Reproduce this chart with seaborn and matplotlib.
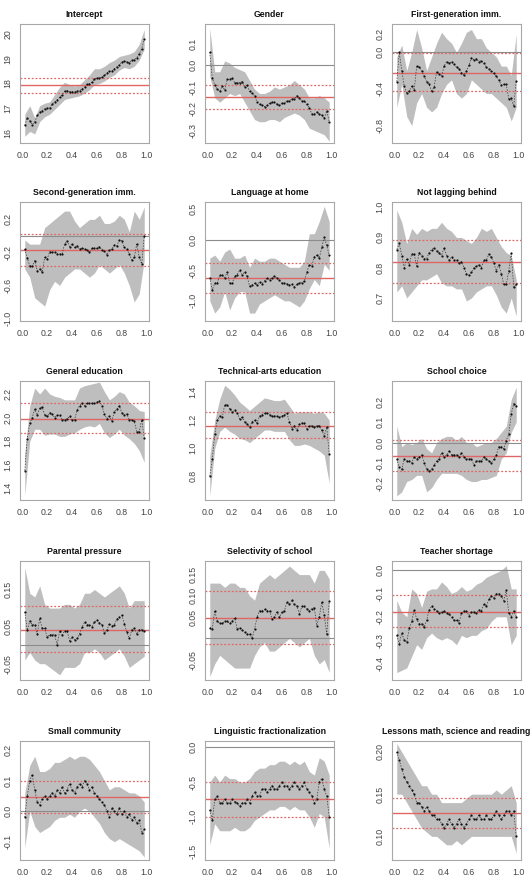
# Quantile regression coefficient plots, 5 x 3 grid

import numpy as np
import pandas as pd
import matplotlib
matplotlib.use('Agg')
import matplotlib.pyplot as plt
import seaborn as sns

# quantile levels of the coefficient points and of the band knots
taus = [0.02, 0.04, 0.06, 0.08, 0.10, 0.12, 0.14, 0.16, 0.18, 0.20,
        0.22, 0.24, 0.26, 0.28, 0.30, 0.32, 0.34, 0.36, 0.38, 0.40,
        0.42, 0.44, 0.46, 0.48, 0.50, 0.52, 0.54, 0.56, 0.58, 0.60,
        0.62, 0.64, 0.66, 0.68, 0.70, 0.72, 0.74, 0.76, 0.78, 0.80,
        0.82, 0.84, 0.86, 0.88, 0.90, 0.92, 0.94, 0.96, 0.98]
band_taus = [0.02, 0.06, 0.10, 0.14, 0.18, 0.22, 0.26, 0.30, 0.34, 0.38,
             0.42, 0.46, 0.50, 0.54, 0.58, 0.62, 0.66, 0.70, 0.74, 0.78,
             0.82, 0.86, 0.90, 0.94, 0.98]

titles = ['Intercept', 'Gender', 'First-generation imm.',
          'Second-generation imm.', 'Language at home', 'Not lagging behind',
          'General education', 'Technical-arts education', 'School choice',
          'Parental pressure', 'Selectivity of school', 'Teacher shortage',
          'Small community', 'Linguistic fractionalization',
          'Lessons math, science and reading']

# Intercept
intercept_coef = [16.3, 16.6, 16.47, 16.33, 16.43, 16.7, 16.83,
                  16.9, 16.97, 17.0, 17.0, 17.17, 17.24, 17.33,
                  17.44, 17.54, 17.69, 17.71, 17.67, 17.67, 17.65,
                  17.69, 17.71, 17.78, 17.85, 17.96, 17.99, 18.05,
                  18.19, 18.22, 18.23, 18.26, 18.33, 18.42, 18.49,
                  18.5, 18.6, 18.67, 18.76, 18.87, 18.9, 18.87,
                  18.84, 18.94, 18.97, 19.05, 19.21, 19.42, 19.8]
intercept_lo = [15.85, 16.05, 15.95, 16.45, 16.65, 16.75, 16.95, 17.15, 17.35, 17.4,
                17.45, 17.5, 17.6, 17.75, 17.95, 18.0, 18.1, 18.25, 18.35, 18.55,
                18.65, 18.6, 18.7, 18.95, 19.4]
intercept_hi = [16.75, 17.1, 16.6, 17.1, 17.2, 17.25, 17.55, 17.85, 18.05, 17.95,
                17.9, 17.95, 18.15, 18.35, 18.6, 18.6, 18.7, 18.85, 18.95, 19.1,
                19.15, 19.2, 19.3, 19.6, 20.2]
intercept_ols = [17.92, 17.62, 18.23]

# Gender
gender_coef = [0.06, -0.06, -0.09, -0.11, -0.12, -0.095, -0.115,
               -0.065, -0.065, -0.06, -0.08, -0.08, -0.08, -0.075,
               -0.1, -0.09, -0.12, -0.13, -0.14, -0.17, -0.18,
               -0.185, -0.19, -0.185, -0.175, -0.17, -0.17, -0.18,
               -0.185, -0.175, -0.175, -0.165, -0.165, -0.155, -0.155,
               -0.14, -0.15, -0.165, -0.165, -0.18, -0.195, -0.225,
               -0.225, -0.215, -0.225, -0.23, -0.245, -0.21, -0.26]
gender_lo = [-0.05, -0.15, -0.17, -0.15, -0.13, -0.14, -0.13, -0.17, -0.21, -0.25,
             -0.26, -0.26, -0.25, -0.25, -0.26, -0.24, -0.23, -0.22, -0.23, -0.25,
             -0.29, -0.3, -0.31, -0.32, -0.35]
gender_hi = [0.17, -0.03, -0.03, 0.02, 0.01, -0.01, -0.02, -0.03, -0.07, -0.11,
             -0.13, -0.13, -0.12, -0.1, -0.11, -0.1, -0.09, -0.07, -0.09, -0.11,
             -0.15, -0.15, -0.14, -0.15, -0.17]
gender_ols = [-0.145, -0.2, -0.089]

# First-generation immigrant
firstgen_coef = [-0.32, 0.0, -0.2, -0.37, -0.44, -0.42, -0.37,
                 -0.41, -0.15, -0.16, -0.2, -0.26, -0.32, -0.35,
                 -0.42, -0.38, -0.21, -0.24, -0.26, -0.15, -0.1,
                 -0.12, -0.1, -0.13, -0.16, -0.18, -0.22, -0.25,
                 -0.2, -0.14, -0.06, -0.08, -0.07, -0.1, -0.09,
                 -0.12, -0.16, -0.18, -0.2, -0.23, -0.26, -0.3,
                 -0.36, -0.35, -0.35, -0.51, -0.5, -0.59, -0.31]
firstgen_lo = [-0.6, -0.35, -0.7, -0.8, -0.55, -0.45, -0.6, -0.65, -0.6, -0.45,
               -0.35, -0.3, -0.45, -0.5, -0.45, -0.3, -0.35, -0.4, -0.45, -0.45,
               -0.5, -0.55, -0.6, -0.75, -0.6]
firstgen_hi = [-0.05, 0.08, -0.2, 0.0, 0.25, 0.05, -0.2, -0.05, 0.1, 0.22,
               0.15, 0.1, 0.0, 0.1, 0.22, 0.25, 0.15, 0.15, 0.05, 0.0,
               -0.05, -0.15, -0.15, -0.25, 0.2]
firstgen_ols = [-0.22, -0.42, -0.007]

# Second-generation immigrant
secondgen_coef = [-0.16, -0.27, -0.36, -0.37, -0.3, -0.42, -0.4,
                  -0.44, -0.26, -0.28, -0.19, -0.2, -0.19, -0.22,
                  -0.22, -0.22, -0.1, -0.06, -0.13, -0.1, -0.14,
                  -0.12, -0.16, -0.15, -0.16, -0.17, -0.2, -0.15,
                  -0.15, -0.15, -0.13, -0.17, -0.18, -0.23, -0.17,
                  -0.16, -0.11, -0.12, -0.05, -0.06, -0.14, -0.16,
                  -0.22, -0.29, -0.26, -0.1, -0.26, -0.34, 0.0]
secondgen_lo = [-0.4, -0.5, -0.75, -0.8, -0.85, -0.65, -0.55, -0.6, -0.5, -0.45,
                -0.4, -0.4, -0.45, -0.5, -0.45, -0.35, -0.4, -0.45, -0.4, -0.35,
                -0.45, -0.6, -0.8, -0.7, -0.3]
secondgen_hi = [-0.05, -0.1, -0.1, -0.1, 0.1, 0.15, 0.2, 0.25, 0.3, 0.3,
                0.18, 0.1, 0.15, 0.2, 0.2, 0.25, 0.15, 0.15, 0.18, 0.25,
                0.2, 0.05, 0.3, 0.2, 0.35]
secondgen_ols = [-0.17, -0.36, 0.02]

# Language at home
language_coef = [-0.62, -0.82, -0.71, -0.71, -0.58, -0.58, -0.62,
                 -0.53, -0.71, -0.71, -0.6, -0.57, -0.5, -0.57,
                 -0.53, -0.6, -0.76, -0.74, -0.71, -0.74, -0.69,
                 -0.72, -0.67, -0.63, -0.65, -0.62, -0.6, -0.62,
                 -0.66, -0.71, -0.71, -0.72, -0.74, -0.73, -0.77,
                 -0.73, -0.7, -0.7, -0.68, -0.53, -0.41, -0.43,
                 -0.28, -0.25, -0.3, -0.12, 0.04, -0.09, -0.25]
language_lo = [-1.0, -1.2, -1.1, -0.85, -1.15, -0.95, -0.85, -0.85, -1.2, -1.2,
               -1.05, -1.0, -0.95, -0.9, -0.95, -1.0, -1.0, -1.05, -1.1, -1.0,
               -0.8, -0.65, -0.75, -0.4, -0.5]
language_hi = [-0.3, -0.25, -0.35, -0.2, -0.15, -0.3, -0.3, -0.25, -0.45, -0.3,
               -0.35, -0.35, -0.3, -0.3, -0.35, -0.4, -0.45, -0.45, -0.45, -0.35,
               0.1, 0.1, 0.3, 0.55, 0.3]
language_ols = [-0.63, -0.87, -0.38]

# Not lagging behind
notlag_coef = [0.86, 0.88, 0.84, 0.8, 0.83, 0.81, 0.845,
               0.845, 0.805, 0.85, 0.84, 0.83, 0.83, 0.85,
               0.86, 0.865, 0.855, 0.85, 0.84, 0.865, 0.84,
               0.825, 0.835, 0.825, 0.825, 0.815, 0.82, 0.8,
               0.78, 0.775, 0.785, 0.8, 0.805, 0.81, 0.8,
               0.825, 0.825, 0.845, 0.835, 0.815, 0.79, 0.81,
               0.78, 0.745, 0.745, 0.79, 0.85, 0.735, 0.745]
notlag_lo = [0.72, 0.74, 0.7, 0.72, 0.74, 0.76, 0.76, 0.77, 0.78, 0.75,
             0.74, 0.74, 0.73, 0.73, 0.69, 0.7, 0.72, 0.73, 0.74, 0.74,
             0.71, 0.67, 0.65, 0.7, 0.64]
notlag_hi = [0.99, 0.95, 0.88, 0.93, 0.91, 0.93, 0.92, 0.93, 0.93, 0.95,
             0.93, 0.92, 0.9, 0.9, 0.89, 0.88, 0.9, 0.93, 0.92, 0.93,
             0.9, 0.87, 0.85, 0.84, 0.76]
notlag_ols = [0.82, 0.749, 0.892]

# General education
geneduc_coef = [1.55, 1.82, 1.95, 2.0, 2.07, 2.02, 2.08,
                2.09, 2.02, 2.01, 2.04, 2.03, 2.0, 2.02,
                2.02, 1.98, 1.98, 1.99, 2.01, 1.98, 1.98,
                2.06, 2.1, 2.12, 2.1, 2.12, 2.12, 2.12,
                2.12, 2.13, 2.14, 2.1, 2.03, 1.99, 2.01,
                1.97, 2.05, 2.07, 2.1, 2.04, 2.02, 2.03,
                1.98, 1.98, 1.97, 1.88, 1.88, 1.98, 1.83]
geneduc_lo = [1.34, 1.8, 1.9, 1.9, 1.85, 1.86, 1.86, 1.84, 1.84, 1.86,
              1.87, 1.9, 1.92, 1.93, 1.92, 1.95, 1.87, 1.83, 1.86, 1.9,
              1.85, 1.82, 1.78, 1.72, 1.62]
geneduc_hi = [1.7, 2.1, 2.25, 2.2, 2.25, 2.2, 2.18, 2.17, 2.15, 2.15,
              2.15, 2.25, 2.27, 2.28, 2.29, 2.3, 2.22, 2.15, 2.18, 2.22,
              2.2, 2.13, 2.1, 2.06, 2.05]
geneduc_ols = [1.99, 1.87, 2.12]

# Technical-arts education
techeduc_coef = [0.8, 0.92, 1.1, 1.2, 1.23, 1.22, 1.31,
                 1.31, 1.28, 1.26, 1.27, 1.25, 1.21, 1.22,
                 1.19, 1.17, 1.15, 1.19, 1.2, 1.18, 1.23,
                 1.24, 1.25, 1.25, 1.24, 1.23, 1.23, 1.23,
                 1.22, 1.23, 1.24, 1.25, 1.19, 1.14, 1.16,
                 1.13, 1.17, 1.18, 1.18, 1.14, 1.16, 1.16,
                 1.15, 1.16, 1.16, 1.13, 1.09, 1.15, 0.96]
techeduc_lo = [0.66, 1.0, 1.12, 1.15, 1.12, 1.1, 1.07, 1.06, 1.04, 1.07,
               1.1, 1.13, 1.13, 1.12, 1.12, 1.12, 1.06, 1.02, 1.02, 1.03,
               1.02, 1.0, 0.98, 0.95, 0.75]
techeduc_hi = [0.94, 1.2, 1.35, 1.45, 1.42, 1.38, 1.33, 1.3, 1.27, 1.3,
               1.33, 1.36, 1.35, 1.34, 1.34, 1.35, 1.3, 1.25, 1.26, 1.26,
               1.26, 1.25, 1.26, 1.25, 1.2]
techeduc_ols = [1.16, 1.07, 1.26]

# School choice
choice_coef = [-0.08, -0.12, -0.13, -0.08, -0.09, -0.09, -0.1,
               -0.07, -0.08, -0.07, -0.06, -0.1, -0.13, -0.14,
               -0.13, -0.11, -0.09, -0.08, -0.05, -0.07, -0.06,
               -0.04, -0.06, -0.06, -0.06, -0.07, -0.05, -0.07,
               -0.08, -0.08, -0.08, -0.11, -0.09, -0.09, -0.09,
               -0.07, -0.08, -0.09, -0.1, -0.08, -0.06, -0.02,
               -0.02, -0.03, 0.01, 0.04, 0.14, 0.19, 0.18]
choice_lo = [-0.26, -0.24, -0.19, -0.18, -0.16, -0.16, -0.24, -0.22, -0.18, -0.15,
             -0.15, -0.15, -0.15, -0.16, -0.18, -0.19, -0.19, -0.18, -0.18, -0.17,
             -0.16, -0.08, -0.05, 0.05, 0.1]
choice_hi = [0.08, -0.02, 0.0, -0.01, 0.0, 0.02, -0.03, -0.05, 0.0, 0.02,
             0.03, 0.03, 0.01, 0.03, 0.0, 0.0, -0.02, -0.01, 0.0, 0.0,
             0.02, 0.05, 0.08, 0.21, 0.27]
choice_ols = [-0.064, -0.14, 0.011]

# Parental pressure
pressure_coef = [0.09, 0.04, 0.065, 0.055, 0.055, 0.03, 0.072,
                 0.045, 0.045, 0.022, 0.028, 0.028, 0.028, 0.0,
                 0.038, 0.028, 0.038, 0.038, 0.012, 0.022, 0.015,
                 0.018, 0.03, 0.048, 0.062, 0.055, 0.055, 0.05,
                 0.062, 0.068, 0.06, 0.055, 0.032, 0.04, 0.058,
                 0.052, 0.055, 0.07, 0.075, 0.08, 0.058, 0.035,
                 0.018, 0.042, 0.045, 0.03, 0.042, 0.042, 0.038]
pressure_lo = [-0.04, -0.02, -0.04, -0.05, -0.05, -0.06, -0.07, -0.08, -0.06, -0.06,
               -0.06, -0.05, -0.02, -0.02, -0.01, -0.02, -0.04, -0.03, -0.02, -0.01,
               -0.03, -0.06, -0.05, -0.04, -0.03]
pressure_hi = [0.21, 0.14, 0.13, 0.16, 0.11, 0.1, 0.1, 0.1, 0.11, 0.11,
               0.1, 0.11, 0.14, 0.14, 0.15, 0.14, 0.13, 0.14, 0.15, 0.16,
               0.14, 0.1, 0.12, 0.12, 0.12]
pressure_ols = [0.041, -0.018, 0.106]

# Selectivity of school
select_coef = [0.025, 0.022, 0.065, 0.04, 0.035, 0.035, 0.04,
               0.04, 0.035, 0.04, 0.048, 0.022, 0.025, 0.02,
               0.015, 0.01, 0.01, 0.0, 0.022, 0.05, 0.065,
               0.065, 0.068, 0.065, 0.065, 0.045, 0.05, 0.062,
               0.05, 0.062, 0.065, 0.085, 0.08, 0.09, 0.08,
               0.075, 0.058, 0.075, 0.075, 0.07, 0.065, 0.07,
               0.072, 0.03, 0.05, 0.085, 0.055, 0.01, 0.088]
select_lo = [-0.09, -0.06, -0.04, -0.05, -0.06, -0.07, -0.07, -0.07, -0.07, -0.04,
             -0.02, -0.01, -0.03, -0.03, -0.02, -0.01, 0.0, -0.01, -0.02, -0.01,
             0.0, -0.04, -0.06, -0.05, -0.08]
select_hi = [0.13, 0.13, 0.13, 0.12, 0.13, 0.13, 0.12, 0.12, 0.1, 0.09,
             0.13, 0.14, 0.15, 0.14, 0.15, 0.16, 0.17, 0.16, 0.15, 0.15,
             0.15, 0.13, 0.16, 0.16, 0.14]
select_ols = [0.048, -0.013, 0.111]

# Teacher shortage
teacher_coef = [-0.28, -0.315, -0.27, -0.3, -0.31, -0.25, -0.22,
                -0.17, -0.21, -0.23, -0.23, -0.245, -0.215, -0.17,
                -0.155, -0.165, -0.175, -0.185, -0.18, -0.175, -0.185,
                -0.19, -0.2, -0.215, -0.215, -0.225, -0.185, -0.175,
                -0.175, -0.195, -0.18, -0.18, -0.185, -0.17, -0.175,
                -0.145, -0.155, -0.125, -0.11, -0.12, -0.1, -0.1,
                -0.11, -0.13, -0.085, -0.185, -0.2, -0.175, -0.2]
teacher_lo = [-0.44, -0.43, -0.42, -0.37, -0.32, -0.34, -0.29, -0.27, -0.29, -0.3,
              -0.29, -0.3, -0.32, -0.28, -0.29, -0.28, -0.28, -0.26, -0.25, -0.22,
              -0.2, -0.2, -0.2, -0.32, -0.28]
teacher_hi = [-0.13, -0.18, -0.2, -0.08, -0.1, -0.16, -0.09, -0.08, -0.08, -0.05,
              -0.07, -0.1, -0.09, -0.07, -0.09, -0.08, -0.06, -0.05, -0.03, -0.02,
              -0.01, 0.0, 0.02, -0.08, -0.08]
teacher_ols = [-0.178, -0.246, -0.106]

# Small community
small_coef = [-0.02, 0.05, 0.1, 0.12, 0.07, 0.03, 0.02,
              0.04, 0.05, 0.04, 0.05, 0.06, 0.05, 0.07,
              0.06, 0.08, 0.06, 0.07, 0.09, 0.07, 0.06,
              0.08, 0.09, 0.08, 0.1, 0.09, 0.07, 0.08,
              0.06, 0.05, 0.04, 0.03, 0.02, 0.0, -0.02,
              0.01, 0.0, -0.01, 0.01, -0.01, 0.0, -0.02,
              -0.01, -0.03, -0.02, -0.04, -0.03, -0.07, -0.06]
small_lo = [-0.12, 0.0, -0.05, -0.07, -0.06, -0.05, -0.03, -0.02, -0.02, -0.01,
            -0.02, 0.0, 0.01, 0.0, -0.02, -0.04, -0.07, -0.09, -0.1, -0.09,
            -0.1, -0.11, -0.12, -0.13, -0.15]
small_hi = [0.06, 0.15, 0.18, 0.13, 0.13, 0.14, 0.16, 0.16, 0.17, 0.18,
            0.17, 0.18, 0.18, 0.17, 0.15, 0.13, 0.1, 0.07, 0.08, 0.08,
            0.07, 0.06, 0.06, 0.05, 0.03]
small_ols = [0.045, -0.005, 0.1]

# Linguistic fractionalization
lingfrac_coef = [-0.9, -1.05, -0.75, -0.7, -0.8, -0.8, -0.75,
                 -0.8, -0.8, -0.75, -0.78, -0.8, -0.85, -0.8,
                 -0.8, -0.75, -0.8, -0.7, -0.65, -0.7, -0.7,
                 -0.6, -0.6, -0.65, -0.6, -0.55, -0.6, -0.6,
                 -0.55, -0.5, -0.55, -0.55, -0.6, -0.55, -0.5,
                 -0.55, -0.6, -0.55, -0.5, -0.6, -0.65, -0.7,
                 -0.8, -0.75, -0.5, -0.45, -0.6, -0.7, -1.0]
lingfrac_lo = [-1.4, -1.1, -1.2, -1.2, -1.2, -1.15, -1.2, -1.2, -1.15, -1.05,
               -1.0, -0.95, -0.9, -0.9, -0.85, -0.85, -0.9, -0.85, -0.9, -0.9,
               -1.0, -1.15, -0.95, -1.0, -1.45]
lingfrac_hi = [-0.5, -0.4, -0.5, -0.4, -0.45, -0.45, -0.5, -0.5, -0.45, -0.35,
               -0.3, -0.3, -0.25, -0.25, -0.2, -0.2, -0.25, -0.2, -0.25, -0.2,
               -0.35, -0.4, -0.15, -0.2, -0.4]
lingfrac_ols = [-0.75, -1.0, -0.5]

# Lessons math, science and reading
lessons_coef = [0.2, 0.19, 0.18, 0.17, 0.165, 0.16, 0.155,
                0.15, 0.14, 0.14, 0.135, 0.13, 0.135, 0.13,
                0.125, 0.125, 0.12, 0.12, 0.115, 0.11, 0.115,
                0.12, 0.115, 0.11, 0.115, 0.12, 0.115, 0.11,
                0.115, 0.12, 0.125, 0.12, 0.12, 0.125, 0.12,
                0.12, 0.125, 0.12, 0.12, 0.125, 0.13, 0.125,
                0.12, 0.125, 0.13, 0.13, 0.125, 0.13, 0.1]
lessons_lo = [0.15, 0.15, 0.14, 0.13, 0.12, 0.11, 0.105, 0.1, 0.1, 0.095,
              0.09, 0.09, 0.095, 0.09, 0.095, 0.1, 0.1, 0.1, 0.1, 0.1,
              0.1, 0.1, 0.1, 0.1, 0.08]
lessons_hi = [0.21, 0.2, 0.19, 0.18, 0.17, 0.16, 0.16, 0.15, 0.15, 0.14,
              0.14, 0.14, 0.14, 0.14, 0.145, 0.15, 0.15, 0.15, 0.15, 0.15,
              0.155, 0.15, 0.155, 0.16, 0.14]
lessons_ols = [0.128, 0.11, 0.145]

# y axis ticks ('' = tick without label) and limits per panel
yticks = [[16, 17, 18, 19, 20],
          [-0.3, -0.2, -0.1, 0.0, 0.1],
          [-0.8, -0.6, -0.4, -0.2, 0.0, 0.2],
          [-1.0, -0.8, -0.6, -0.4, -0.2, 0.0, 0.2],
          [-1.0, -0.5, 0.0, 0.5],
          [0.7, 0.8, 0.9, 1.0],
          [1.4, 1.6, 1.8, 2.0, 2.2],
          [0.8, 1.0, 1.2, 1.4],
          [-0.2, -0.1, 0.0, 0.1, 0.2],
          [-0.05, 0.0, 0.05, 0.10, 0.15],
          [-0.05, 0.0, 0.05, 0.10, 0.15],
          [-0.4, -0.3, -0.2, -0.1, 0.0],
          [-0.1, 0.0, 0.1, 0.2],
          [-1.5, -1.0, -0.5, 0.0],
          [0.10, 0.15, 0.20]]
ylabels = [['16', '17', '18', '19', '20'],
           ['-0.3', '-0.2', '-0.1', '0.0', '0.1'],
           ['-0.8', '', '-0.4', '', '0.0', '0.2'],
           ['-1.0', '', '-0.6', '', '-0.2', '', '0.2'],
           ['-1.0', '-0.5', '0.0', '0.5'],
           ['0.7', '0.8', '0.9', '1.0'],
           ['1.4', '1.6', '1.8', '2.0', '2.2'],
           ['0.8', '1.0', '1.2', '1.4'],
           ['-0.2', '-0.1', '0.0', '0.1', '0.2'],
           ['-0.05', '', '0.05', '', '0.15'],
           ['-0.05', '', '0.05', '0.10', '0.15'],
           ['-0.4', '-0.3', '-0.2', '-0.1', '0.0'],
           ['-0.1', '0.0', '0.1', '0.2'],
           ['-1.5', '-1.0', '-0.5', '0.0'],
           ['0.10', '0.15', '0.20']]
ylims = [(15.58, 20.42), (-0.358, 0.19), (-0.99, 0.31), (-1.03, 0.41),
         (-1.33, 0.62), (0.624, 1.017), (1.30, 2.31), (0.63, 1.48),
         (-0.28, 0.30), (-0.094, 0.227), (-0.098, 0.182), (-0.472, 0.04),
         (-0.16, 0.23), (-1.62, 0.09), (0.072, 0.213)]

coefs = [intercept_coef, gender_coef, firstgen_coef, secondgen_coef, language_coef,
         notlag_coef, geneduc_coef, techeduc_coef, choice_coef, pressure_coef,
         select_coef, teacher_coef, small_coef, lingfrac_coef, lessons_coef]
lows = [intercept_lo, gender_lo, firstgen_lo, secondgen_lo, language_lo,
        notlag_lo, geneduc_lo, techeduc_lo, choice_lo, pressure_lo,
        select_lo, teacher_lo, small_lo, lingfrac_lo, lessons_lo]
highs = [intercept_hi, gender_hi, firstgen_hi, secondgen_hi, language_hi,
         notlag_hi, geneduc_hi, techeduc_hi, choice_hi, pressure_hi,
         select_hi, teacher_hi, small_hi, lingfrac_hi, lessons_hi]
ols = [intercept_ols, gender_ols, firstgen_ols, secondgen_ols, language_ols,
       notlag_ols, geneduc_ols, techeduc_ols, choice_ols, pressure_ols,
       select_ols, teacher_ols, small_ols, lingfrac_ols, lessons_ols]

sns.set_style('white')
plt.rcParams['font.family'] = ['Liberation Sans', 'DejaVu Sans']

W, H = 531, 883
fig = plt.figure(figsize=(W / 100, H / 100), dpi=100)

# panel boxes in pixels
col_left = [20, 205, 392]
row_top = [24, 202, 381, 561, 741]
box_w, box_h = 129, 119

for i, title in enumerate(titles):
    r, c = divmod(i, 3)
    ax = fig.add_axes([col_left[c] / W, 1 - (row_top[r] + box_h) / H,
                       box_w / W, box_h / H])

    # confidence band of the quantile coefficients
    ax.fill_between(band_taus, lows[i], highs[i], color='#bebebe', lw=0, zorder=1)

    # zero line and OLS estimate with its interval
    ax.axhline(0, color='#8c8c8c', lw=0.8, zorder=2)
    ax.axhline(ols[i][0], color='#e06666', lw=1.0, zorder=2)
    ax.axhline(ols[i][1], color='#e06666', lw=0.9, ls=(0, (1.5, 1.5)), zorder=2)
    ax.axhline(ols[i][2], color='#e06666', lw=0.9, ls=(0, (1.5, 1.5)), zorder=2)

    df = pd.DataFrame({'tau': taus, 'coef': coefs[i]})
    sns.lineplot(data=df, x='tau', y='coef', ax=ax, color='#333333', lw=0.5,
                 ls=(0, (2, 2)), zorder=3)
    sns.scatterplot(data=df, x='tau', y='coef', ax=ax, color='#111111', s=2.5,
                    linewidth=0, zorder=4)

    ax.set_xlim(-0.0184, 1.0184)
    ax.set_ylim(*ylims[i])
    ax.set_xticks([0.0, 0.2, 0.4, 0.6, 0.8, 1.0])
    ax.set_xticklabels(['0.0', '0.2', '0.4', '0.6', '0.8', '1.0'])
    ax.set_yticks(yticks[i])
    ax.set_yticklabels(ylabels[i], rotation=90, va='center')
    ax.tick_params(axis='both', direction='out', length=2.5, width=0.6,
                   colors='#8c8c8c', labelcolor='#444444', labelsize=6.3)
    ax.tick_params(axis='x', pad=3)
    ax.tick_params(axis='y', pad=3)
    ax.set_xlabel('')
    ax.set_ylabel('')
    for s in ax.spines.values():
        s.set_color('#a8a8a8')
        s.set_linewidth(0.8)
    ax.set_title(title, fontsize=6.3, fontweight='bold', pad=5, color='#111111')

fig.savefig('out.png', dpi=100)
